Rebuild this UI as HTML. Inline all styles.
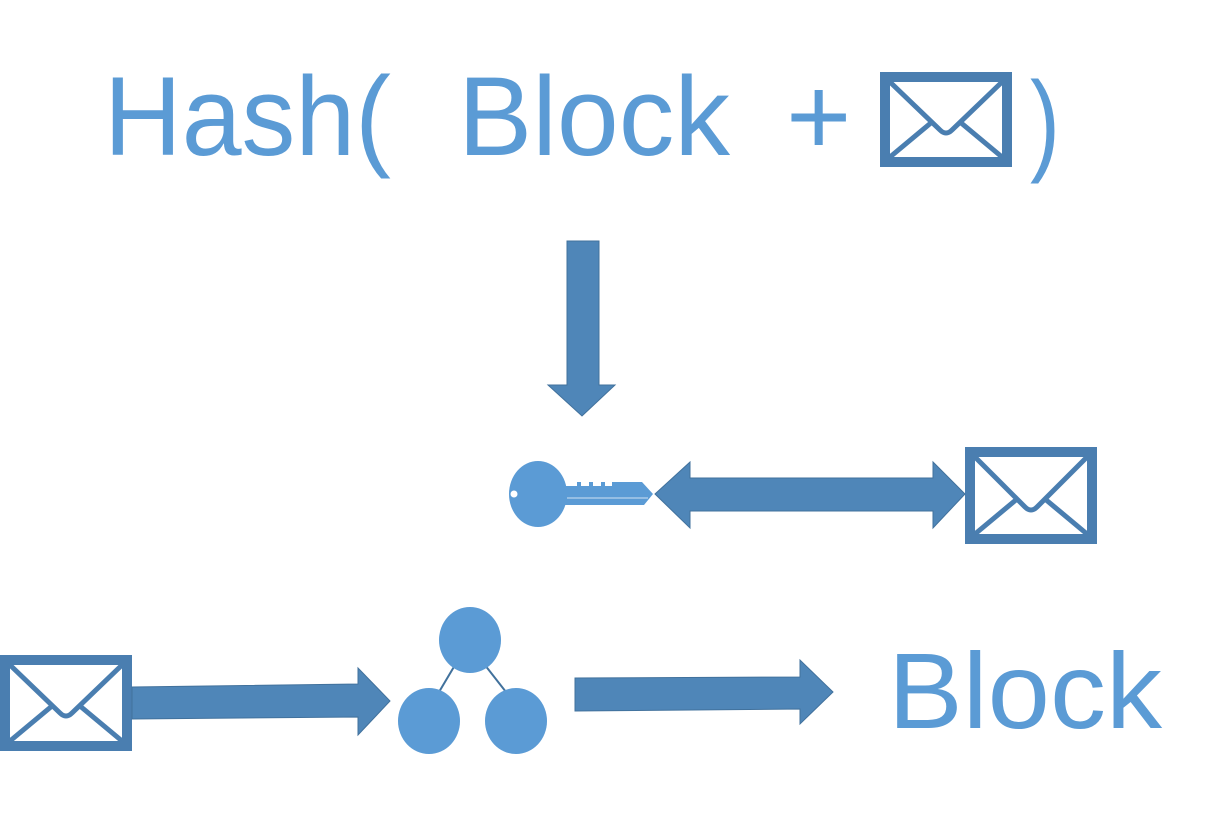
<!DOCTYPE html>
<html><head><meta charset="utf-8"><style>
html,body{margin:0;padding:0;background:#fff;width:1229px;height:830px;overflow:hidden}
svg{display:block}
text{font-family:"Liberation Sans",sans-serif;fill:#5b9bd5}
</style></head><body>
<svg width="1229" height="830" viewBox="0 0 1229 830">
<text x="104" y="155" font-size="112" textLength="287" lengthAdjust="spacingAndGlyphs">Hash(</text>
<text x="458" y="155" font-size="112" textLength="272" lengthAdjust="spacingAndGlyphs">Block</text>
<text x="786" y="155" font-size="112">+</text>
<text x="1030" y="160" font-size="112" textLength="30" lengthAdjust="spacingAndGlyphs">)</text>
<text x="888" y="728" font-size="108" textLength="274" lengthAdjust="spacingAndGlyphs">Block</text>

<g fill="none" stroke="#4a7eb0">
 <rect x="885" y="77" width="122" height="85" stroke-width="10"/>
 <path d="M890 82 L940 130 Q946 136 952 130 L1002 82 M890 157 L932 122 M1002 157 L960 122" stroke-width="5"/>
 <rect x="970" y="452" width="122" height="87" stroke-width="10"/>
 <path d="M975 457 L1025 507 Q1031 513 1037 507 L1087 457 M975 534 L1017 499 M1087 534 L1045 499" stroke-width="5"/>
 <rect x="5" y="660" width="122" height="86" stroke-width="10"/>
 <path d="M10 665 L60 713 Q66 719 72 713 L122 665 M10 741 L52 706 M122 741 L80 706" stroke-width="5"/>
</g>

<g fill="#4f86b8" stroke="#41719c" stroke-width="1">
 <path d="M567 241 H599 V385 H615 L582 416 L548 385 H567 Z"/>
 <path d="M655 494 L690 462 V478 H933 V462 L965 494 L933 528 V511 H690 V528 Z"/>
 <path d="M132 687 L358 684 V668 L390 701 L358 735 V717 L132 719 Z"/>
 <path d="M575 678 L800 677 V660 L833 692 L800 724 V709 L575 711 Z"/>
</g>

<g fill="#5b9bd5">
 <ellipse cx="538" cy="494" rx="29" ry="33"/>
 <path d="M562 486 H577 V482 H581 V486 H589 V482 H593 V486 H601 V482 H605 V486 H612 V482 H642 L653 494 L644 505 H562 Z"/>
 <line x1="567" y1="498" x2="648" y2="498" stroke="#cfe0f2" stroke-width="1"/>
 <circle cx="514" cy="494" r="3.5" fill="#fff"/>
 <line x1="458" y1="660" x2="439" y2="692" stroke="#41719c" stroke-width="2"/>
 <line x1="481" y1="660" x2="506" y2="692" stroke="#41719c" stroke-width="2"/>
 <ellipse cx="470" cy="640" rx="31" ry="33"/>
 <ellipse cx="429" cy="721" rx="31" ry="33"/>
 <ellipse cx="516" cy="721" rx="31" ry="33"/>
</g>
</svg>
</body></html>
